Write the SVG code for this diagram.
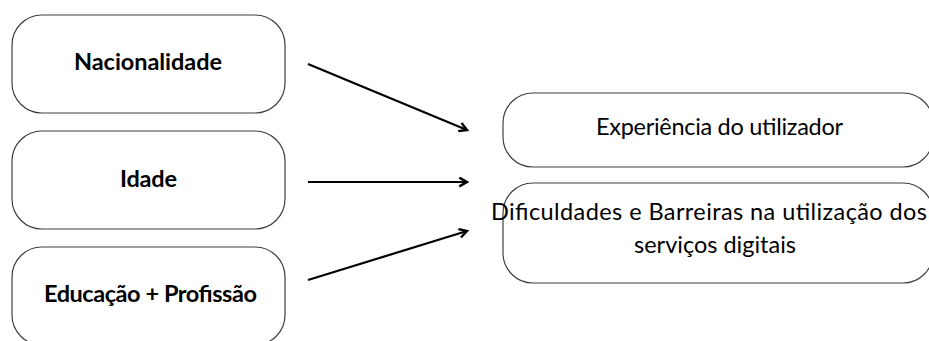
<svg xmlns="http://www.w3.org/2000/svg" width="929" height="341" viewBox="0 0 929 341">
  <style>
    .box { fill: #ffffff; stroke: #404040; stroke-width: 1.2; }
    .lbl { font-family: Lato, "Open Sans", "Liberation Sans", sans-serif; fill: #000000; text-anchor: middle; font-size: 23.5px; }
    .bold { font-weight: bold; }
    .arrow { stroke: #000000; stroke-width: 2.2; fill: none; marker-end: url(#head); }
  </style>
  <defs>
    <marker id="head" viewBox="0 0 10 10" refX="8" refY="5" markerWidth="5" markerHeight="5" orient="auto" markerUnits="strokeWidth">
      <path d="M1,1 L8,5 L1,9" fill="none" stroke="#000000" stroke-width="2.2" stroke-linejoin="miter"/>
    </marker>
  </defs>
  <rect width="929" height="341" fill="#ffffff"/>

  <!-- factors on the left -->
  <g id="node-nacionalidade">
    <rect class="box" x="12" y="15" width="273" height="98" rx="30" ry="30"/>
    <text class="lbl bold" x="148" y="70" textLength="148" lengthAdjust="spacing">Nacionalidade</text>
  </g>
  <g id="node-idade">
    <rect class="box" x="12" y="131" width="273" height="98" rx="30" ry="30"/>
    <text class="lbl bold" x="148.5" y="187" textLength="57" lengthAdjust="spacing">Idade</text>
  </g>
  <g id="node-educacao">
    <rect class="box" x="12" y="247" width="273" height="98" rx="30" ry="30"/>
    <text class="lbl bold" x="150.5" y="302" textLength="213" lengthAdjust="spacing">Educação + Profissão</text>
  </g>

  <!-- outcomes on the right -->
  <g id="node-experiencia">
    <rect class="box" x="503" y="93" width="430" height="74" rx="30" ry="30"/>
    <text class="lbl" x="719.5" y="135" textLength="247" lengthAdjust="spacing">Experiência do utilizador</text>
  </g>
  <g id="node-dificuldades">
    <rect class="box" x="503" y="183" width="430" height="100" rx="30" ry="30"/>
    <text class="lbl" x="709" y="220" textLength="436" lengthAdjust="spacing">Dificuldades e Barreiras na utilização dos</text>
    <text class="lbl" x="715" y="253" textLength="162" lengthAdjust="spacing">serviços digitais</text>
  </g>

  <!-- connectors -->
  <g id="connectors">
    <line class="arrow" x1="308" y1="64" x2="467" y2="130"/>
    <line class="arrow" x1="308" y1="182" x2="467" y2="182"/>
    <line class="arrow" x1="308" y1="280" x2="467" y2="231"/>
  </g>
</svg>
